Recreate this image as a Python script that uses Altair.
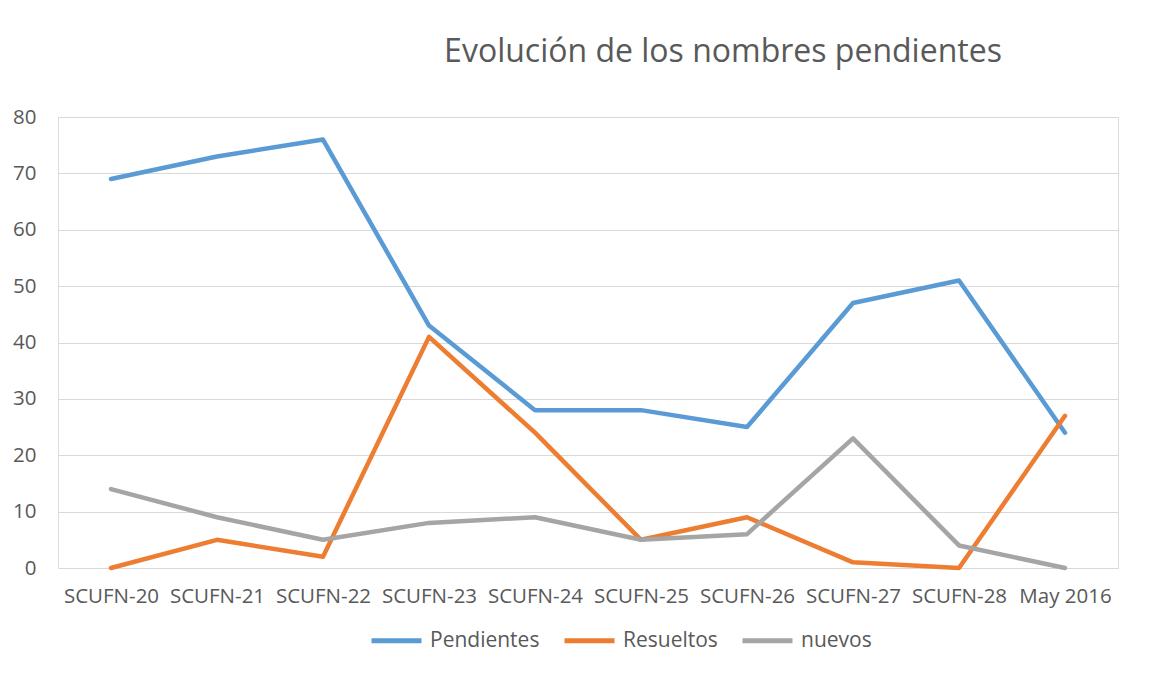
import altair as alt
import pandas as pd

categories = ["SCUFN-20", "SCUFN-21", "SCUFN-22", "SCUFN-23", "SCUFN-24",
              "SCUFN-25", "SCUFN-26", "SCUFN-27", "SCUFN-28", "May 2016"]
pendientes = [69, 73, 76, 43, 28, 28, 25, 47, 51, 24]
resueltos = [0, 5, 2, 41, 24, 5, 9, 1, 0, 27]
nuevos = [14, 9, 5, 8, 9, 5, 6, 23, 4, 0]

series_names = ["Pendientes", "Resueltos", "nuevos"]
series_colors = ["#5b9bd5", "#ed7d31", "#a5a5a5"]

rows = []
for name, vals in zip(series_names, [pendientes, resueltos, nuevos]):
    for i, (c, v) in enumerate(zip(categories, vals)):
        rows.append({"cat": c, "serie": name, "valor": v, "order": i})
df = pd.DataFrame(rows)

FONT = "Open Sans"
GREY = "#595959"

chart = alt.Chart(df).mark_line(strokeWidth=4.5, strokeCap="round", strokeJoin="round").encode(
    x=alt.X("cat:N", sort=categories, title=None,
            scale=alt.Scale(type="point", padding=0.5),
            axis=alt.Axis(labelAngle=0, domain=False, ticks=False, grid=False,
                          labelFontSize=20.5, labelColor=GREY, labelFont=FONT,
                          labelPadding=18)),
    y=alt.Y("valor:Q", title=None,
            scale=alt.Scale(domain=[0, 80], nice=False),
            axis=alt.Axis(values=[0, 10, 20, 30, 40, 50, 60, 70, 80],
                          domain=False, ticks=False, gridColor="#d9d9d9",
                          gridWidth=1.2, labelFontSize=20.5, labelColor=GREY,
                          labelFont=FONT, labelPadding=22)),
    color=alt.Color("serie:N", sort=series_names,
                    scale=alt.Scale(domain=series_names, range=series_colors),
                    legend=alt.Legend(title=None, orient="none", direction="horizontal",
                                      legendX=311, legendY=496,
                                      symbolType="stroke", symbolSize=2500,
                                      symbolStrokeWidth=5,
                                      labelFontSize=21, labelColor=GREY, labelFont=FONT,
                                      labelOffset=6, columnPadding=14)),
    detail="serie:N",
    order="order:Q",
).properties(
    width=1060,
    height=451,
    autosize=alt.AutoSizeParams(type="none"),
    padding={"left": 50, "top": 109, "right": 24, "bottom": 100},
    title=alt.TitleParams("Evolución de los nombres pendientes", anchor="middle",
                          dx=135, offset=38, fontSize=32, font=FONT,
                          fontWeight="normal", color=GREY),
).configure_view(stroke=None).configure(background="white")

chart.save("out.html", embed_options={"renderer": "svg", "actions": False})
